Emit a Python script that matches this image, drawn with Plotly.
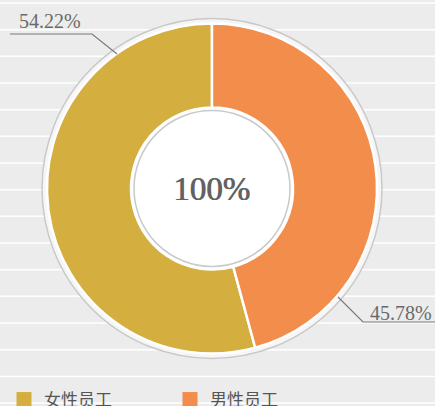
import plotly.graph_objects as go

# ---- data ----
categories = ["女性员工", "男性员工"]
values = [54.22, 45.78]
center_text = "100%"
colors = ["#d4ae3f", "#f28d4b"]

W, H = 435, 406

def px_x(x):
    return x / W

def px_y(y):
    return 1 - y / H

cx, cy = 212, 188.5
r_pie = 165

# first slice runs counter-clockwise from 12 o'clock
start_rot = -values[0] / sum(values) * 360

fig = go.Figure()
fig.add_trace(go.Pie(
    labels=categories,
    values=values,
    sort=False,
    direction="clockwise",
    rotation=start_rot + 360 if start_rot < -180 else start_rot,
    hole=81 / r_pie,
    marker=dict(colors=colors, line=dict(color="white", width=2.5)),
    textinfo="none",
    hoverinfo="label+percent",
    showlegend=False,
    domain=dict(x=[px_x(cx - r_pie), px_x(cx + r_pie)],
                y=[px_y(cy + r_pie), px_y(cy - r_pie)]),
))

# legend entries with larger square swatches
for name, col in zip(categories, colors):
    fig.add_trace(go.Scatter(x=[None], y=[None], mode="markers", name=name,
                             marker=dict(symbol="square", size=15, color=col),
                             hoverinfo="skip"))

shapes = []
# background stripes
for k in range(16):
    y = 3 + k * 26.67
    shapes.append(dict(type="line", xref="paper", yref="paper",
                       x0=0, x1=1, y0=px_y(y), y1=px_y(y),
                       line=dict(color="white", width=1.5), layer="below"))
# outer ring
r_o = 170
shapes.append(dict(type="circle", xref="paper", yref="paper",
                   x0=px_x(cx - r_o), x1=px_x(cx + r_o),
                   y0=px_y(cy + r_o), y1=px_y(cy - r_o),
                   fillcolor="#f6f6f6", line=dict(color="#c9c9c9", width=1.5),
                   layer="below"))
# inner white disc
r_i = 81
shapes.append(dict(type="circle", xref="paper", yref="paper",
                   x0=px_x(cx - r_i), x1=px_x(cx + r_i),
                   y0=px_y(cy + r_i), y1=px_y(cy - r_i),
                   fillcolor="white", line=dict(width=0), layer="below"))
r_g = 78
shapes.append(dict(type="circle", xref="paper", yref="paper",
                   x0=px_x(cx - r_g), x1=px_x(cx + r_g),
                   y0=px_y(cy + r_g), y1=px_y(cy - r_g),
                   fillcolor="rgba(0,0,0,0)", line=dict(color="#c9c9c9", width=1.5),
                   layer="above"))

# leader lines
def path(points):
    return "M " + " L ".join(f"{px_x(x)},{px_y(y)}" for x, y in points)

shapes.append(dict(type="path", xref="paper", yref="paper",
                   path=path([(10, 34), (92, 34), (117, 54)]),
                   line=dict(color="#7a7a7a", width=1.2)))
shapes.append(dict(type="path", xref="paper", yref="paper",
                   path=path([(338, 297), (363, 322), (435, 322)]),
                   line=dict(color="#7a7a7a", width=1.2)))

label_font = dict(family="Liberation Serif, serif", size=20, color="#6a6a6a")
annotations = [
    dict(text=f"{values[0]:.2f}%", x=px_x(17), y=px_y(21), xref="paper", yref="paper",
         xanchor="left", yanchor="middle", showarrow=False, font=label_font),
    dict(text=f"{values[1]:.2f}%", x=px_x(434), y=px_y(313), xref="paper", yref="paper",
         xanchor="right", yanchor="middle", showarrow=False, font=label_font),
    dict(text=center_text, x=px_x(cx - 1), y=px_y(cy), xref="paper", yref="paper",
         xanchor="center", yanchor="middle", showarrow=False,
         font=dict(family="Liberation Serif, serif", size=33, color="#626262",
                   shadow="0.7px 0 0 #626262")),
]

fig.update_layout(
    width=W, height=H,
    margin=dict(l=0, r=0, t=0, b=0, autoexpand=False),
    paper_bgcolor="#ececec",
    plot_bgcolor="rgba(0,0,0,0)",
    xaxis=dict(visible=False),
    yaxis=dict(visible=False),
    shapes=shapes,
    annotations=annotations,
    showlegend=True,
    legend=dict(orientation="h", x=px_x(4), xanchor="left", y=px_y(400), yanchor="middle",
                font=dict(family="Noto Sans CJK SC", size=17, color="#555555"),
                entrywidth=121, entrywidthmode="pixels",
                bgcolor="rgba(0,0,0,0)"),
)

fig.write_html("out.html",
               config={"displayModeBar": False},
               post_script="document.body.style.margin='0';document.body.style.background='#ececec';")
